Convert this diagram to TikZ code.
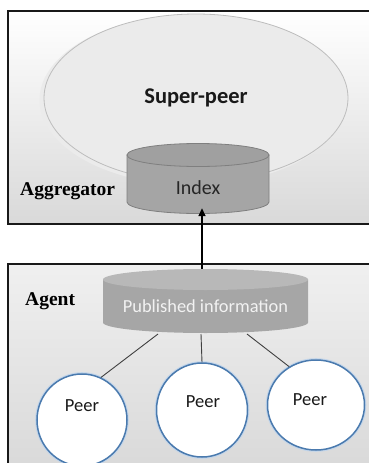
\documentclass[tikz,border=0pt]{standalone}
\usepackage{fontspec}
\setmainfont{Carlito}
\newfontfamily\tnr{Liberation Serif}
\usetikzlibrary{shapes.geometric,arrows.meta}
\definecolor{boxgray}{HTML}{D9D9D9}
\definecolor{spfill}{HTML}{EBEBEB}
\definecolor{spline}{HTML}{BDBDBD}
\definecolor{idxbody}{HTML}{A5A5A5}
\definecolor{idxtop}{HTML}{A0A0A0}
\definecolor{idxline}{HTML}{7F7F7F}
\definecolor{pubbody}{HTML}{A6A6A6}
\definecolor{pubtop}{HTML}{B8B8B8}
\definecolor{peerline}{HTML}{4A7AAE}
\definecolor{peerglow}{HTML}{C2D5EA}
\tikzset{
  boxline/.style={draw=black!90, line width=1.8pt},
  peer/.style={ellipse, draw=peerline, line width=1.5pt, fill=white, inner sep=0pt},
  peerhalo/.style={ellipse, draw=peerglow, line width=3.6pt, inner sep=0pt},
  peertext/.style={font=\fontsize{18.5}{20}\selectfont, text=black!90},
  tie/.style={draw=black!75, line width=0.9pt},
  arr/.style={draw=black, line width=1.5pt, -{Triangle[length=8pt,width=7pt]}},
  serlabel/.style={font=\tnr\bfseries\fontsize{19.5}{22}\selectfont, anchor=west, inner sep=0pt},
}
\begin{document}
\begin{tikzpicture}[x=1pt,y=-1pt]
\useasboundingbox (0,0) rectangle (369,463);
\fill[white] (0,0) rectangle (369,463);
% top box (aggregator)
\shade[top color=white, bottom color=boxgray] (8,11) rectangle (373,224);
\draw[boxline] (8,11) rectangle (373,224);
% super-peer ellipse with soft shadow
\fill[black!8] (193,100) ellipse [x radius=153.5, y radius=85];
\node[ellipse, fill=spfill, draw=spline, line width=0.8pt, minimum width=304pt, minimum height=168pt, inner sep=0pt,
      font=\bfseries\fontsize{22.5}{24}\selectfont, text=black!90] (sp) at (196,98) {Super-peer};
% index cylinder
\filldraw[fill=idxbody, draw=idxline, line width=0.8pt]
  (127,155) -- (127,202) arc[start angle=180, end angle=0, x radius=71, y radius=11.5] -- (269,155) -- cycle;
\filldraw[fill=idxtop, draw=idxline, line width=0.8pt] (198,155) ellipse [x radius=71, y radius=11.5];
\node[inner sep=0pt, minimum width=142pt, minimum height=64pt] (idx) at (198,176) {};
\node[font=\fontsize{20}{22}\selectfont, text=black!85] (idxt) at (198,188) {Index};
\node[serlabel] (agg) at (20,191) {Aggregator};
% bottom box (agent)
\shade[top color=black!6, middle color=white, bottom color=boxgray] (8,264) rectangle (373,470);
\draw[boxline] (8,264) rectangle (373,470);
% published information cylinder
\fill[pubbody] (103,279.5) -- (103,322.5) arc[start angle=180, end angle=0, x radius=102.5, y radius=10.5] -- (308,279.5) -- cycle;
\fill[pubtop] (205.5,279.5) ellipse [x radius=102.5, y radius=10.5];
\node[inner sep=0pt, minimum width=205pt, minimum height=64pt] (pub) at (205.5,301) {};
\node[font=\fontsize{18.4}{20}\selectfont, text=white!95!black] (pubt) at (205.5,306) {Published information};
\node[serlabel] (agent) at (25,301) {Agent};
% arrow
\draw[arr] ([xshift=-3.5pt]pub.north) -- ([xshift=-3.5pt]pub.north |- idx.south);
% peers
\node[peerhalo, minimum width=90pt, minimum height=92pt] (h1) at (82,420) {};
\node[peer, minimum width=90pt, minimum height=92pt] (p1) at (82,420) {};
\node[peerhalo, minimum width=91pt, minimum height=94pt] (h2) at (202,410) {};
\node[peer, minimum width=91pt, minimum height=94pt] (p2) at (202,410) {};
\node[peerhalo, minimum width=97pt, minimum height=90pt] (h3) at (316,405) {};
\node[peer, minimum width=97pt, minimum height=90pt] (p3) at (316,405) {};
\node[peertext] (t1) at (82,406) {Peer};
\node[peertext] (t2) at (203,402) {Peer};
\node[peertext] (t3) at (310,400) {Peer};
% ties
\coordinate (c1) at (158,334);
\coordinate (c2) at (201,334);
\coordinate (c3) at (247,334);
\draw[tie] (c1) -- (p1.66);
\draw[tie] (c2) -- (p2.90);
\draw[tie] (c3) -- (p3.125);
\end{tikzpicture}
\end{document}
